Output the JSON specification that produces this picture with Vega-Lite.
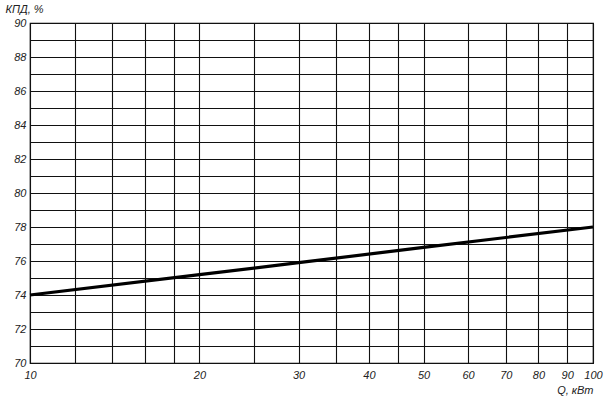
{
  "$schema": "https://vega.github.io/schema/vega-lite/v6.json",
  "width": 563,
  "height": 340,
  "autosize": {"type": "none"},
  "padding": {"left": 30, "top": 23, "right": 12, "bottom": 38},
  "background": "white",
  "config": {
    "view": {"stroke": "black", "strokeWidth": 1.2},
    "axis": {
      "labelFont": "Liberation Sans",
      "labelFontStyle": "italic",
      "labelFontSize": 11,
      "labelColor": "#222",
      "titleFont": "Liberation Sans",
      "titleFontStyle": "italic",
      "titleFontWeight": "normal",
      "titleFontSize": 11,
      "titleColor": "#222",
      "gridColor": "#111",
      "gridOpacity": 1,
      "gridWidth": 1.1,
      "ticks": false,
      "domain": false
    }
  },
  "data": {
    "values": [
      {"Q": 10, "kpd": 74.0},
      {"Q": 20, "kpd": 75.2},
      {"Q": 30, "kpd": 75.9},
      {"Q": 50, "kpd": 76.8},
      {"Q": 100, "kpd": 78.0}
    ]
  },
  "mark": {"type": "line", "color": "black", "strokeWidth": 3.2},
  "encoding": {
    "x": {
      "field": "Q",
      "type": "quantitative",
      "scale": {"type": "log", "domain": [10, 100], "nice": false},
      "axis": {
        "values": [10, 12, 14, 16, 18, 20, 25, 30, 35, 40, 45, 50, 60, 70, 80, 90, 100],
        "labelExpr": "indexof([10,20,30,40,50,60,70,80,90,100], datum.value) >= 0 ? datum.value : ''",
        "labelPadding": 6,
        "labelFlush": false,
        "title": "Q, кВт",
        "titleAnchor": "end",
        "titleAlign": "right",
        "titleBaseline": "middle",
        "titleX": 563,
        "titleY": 27
      }
    },
    "y": {
      "field": "kpd",
      "type": "quantitative",
      "scale": {"domain": [70, 90], "nice": false, "zero": false},
      "axis": {
        "values": [70, 71, 72, 73, 74, 75, 76, 77, 78, 79, 80, 81, 82, 83, 84, 85, 86, 87, 88, 89, 90],
        "labelExpr": "datum.value % 2 == 0 ? datum.value : ''",
        "labelPadding": 4,
        "labelFlush": false,
        "title": "КПД, %",
        "titleAngle": 0,
        "titleAlign": "left",
        "titleBaseline": "middle",
        "titleX": -25,
        "titleY": -14
      }
    }
  }
}
